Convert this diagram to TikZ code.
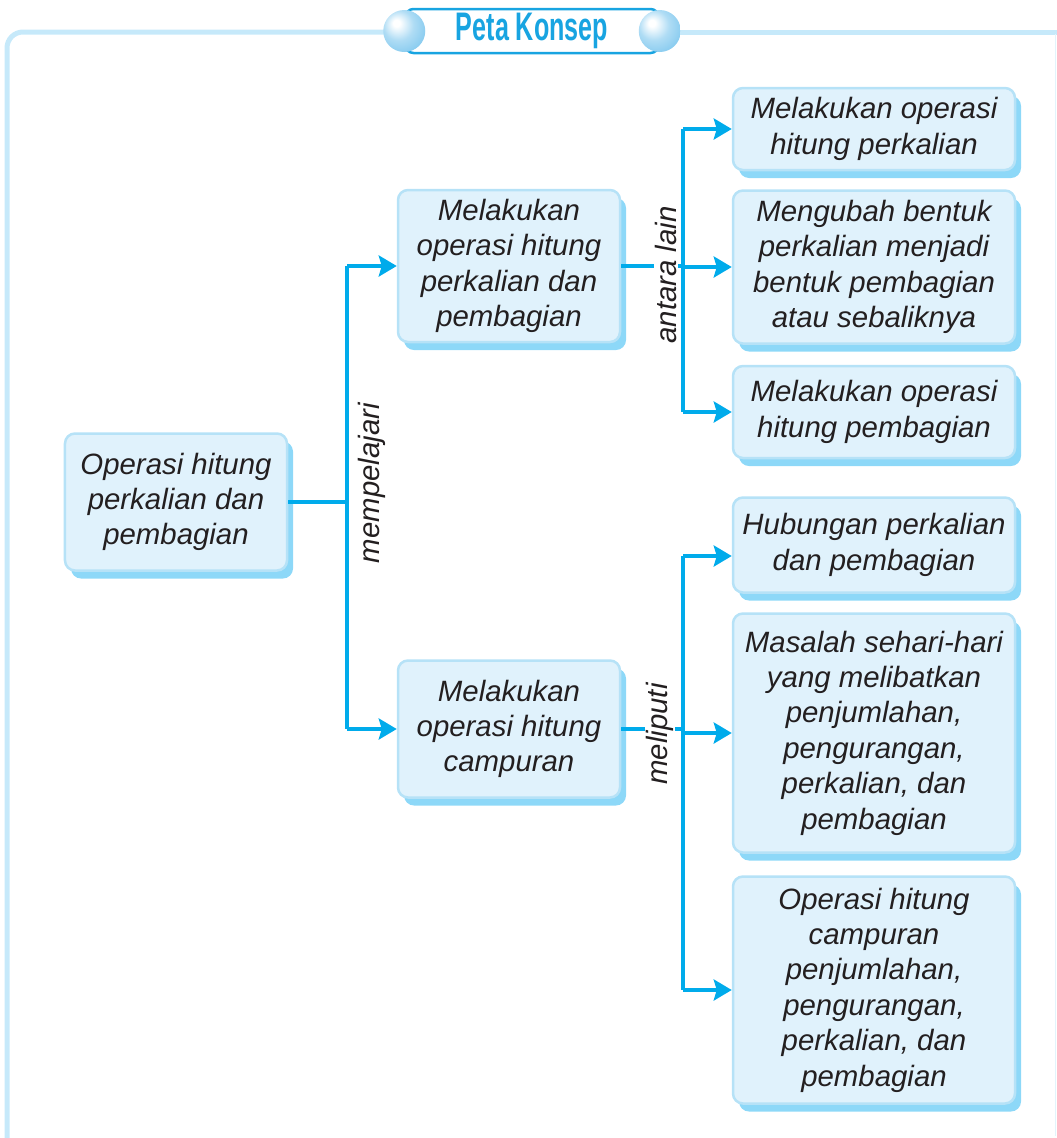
\documentclass[tikz,border=0pt]{standalone}
\usepackage{fontspec}
\setmainfont{Liberation Sans}
\newfontfamily\hdrfont[FakeStretch=0.63]{Liberation Sans}
\usepackage{xcolor}
\usepackage{tikz}
\usetikzlibrary{arrows.meta,shadows}

\definecolor{linkblue}{RGB}{0,171,235}
\definecolor{boxfill}{RGB}{224,242,252}
\definecolor{boxline}{RGB}{182,226,247}
\definecolor{boxshadow}{RGB}{141,216,248}
\definecolor{framebl}{RGB}{198,233,250}
\definecolor{hdrblue}{RGB}{24,164,225}
\definecolor{sphblue}{RGB}{110,192,236}
\definecolor{inkdark}{RGB}{35,31,32}

\pgfdeclareradialshading{pearl}{\pgfpoint{-10bp}{10bp}}{%
  color(0bp)=(white);color(4bp)=(white);color(18bp)=(sphblue!55);%
  color(36bp)=(sphblue!90);color(50bp)=(sphblue);color(60bp)=(sphblue)}

\tikzset{
  cbox/.style={draw=boxline, line width=2.5bp, fill=boxfill, rounded corners=10bp,
    align=center, text=inkdark, font=\fontsize{29.5}{35.5}\selectfont\itshape,
    drop shadow={shadow xshift=6bp, shadow yshift=-8bp, fill=boxshadow, opacity=1}},
  cline/.style={draw=linkblue, line width=3.5bp},
  carrow/.style={cline, -{Stealth[length=18bp,width=21bp,inset=3bp]}},
  clabel/.style={rotate=90, fill=white, inner sep=1bp, text=inkdark,
    font=\fontsize{29.5}{35.5}\selectfont\itshape},
  frame/.style={draw=framebl, line width=5bp, rounded corners=16bp}
}

\begin{document}
\begin{tikzpicture}[x=1bp,y=-1bp]
\useasboundingbox (0,0) rectangle (1057,1138);

\draw[frame] (400,32) -- (7,32) -- (7,1138);
\draw[frame] (650,32) -- (1057,32);
\draw[draw=framebl!50, line width=1bp] (1055,34) -- (1055,1136);

\node[draw=hdrblue, line width=2.5bp, fill=white, rounded corners=8bp,
  minimum width=253bp, minimum height=44bp, text=hdrblue,
  font=\hdrfont\bfseries\fontsize{40}{42}\selectfont] (hdr) at (532,31) {Peta Konsep};
\shade[shading=pearl] (hdr.west) circle (21);
\shade[shading=pearl] (hdr.east) circle (21);

\node[cbox, minimum width=222bp, minimum height=137bp] (root) at (176,502)
  {Operasi hitung\\perkalian dan\\pembagian};
\node[cbox, minimum width=222bp, minimum height=152bp] (mida) at (509,266)
  {Melakukan\\operasi hitung\\perkalian dan\\pembagian};
\node[cbox, minimum width=222bp, minimum height=137bp] (midb) at (509,729)
  {Melakukan\\operasi hitung\\campuran};

\node[cbox, minimum width=282bp, minimum height=82bp] (ra) at (874,129)
  {Melakukan operasi\\hitung perkalian};
\node[cbox, minimum width=282bp, minimum height=153bp] (rb) at (874,267)
  {Mengubah bentuk\\perkalian menjadi\\bentuk pembagian\\atau sebaliknya};
\node[cbox, minimum width=282bp, minimum height=92bp] (rc) at (874,412)
  {Melakukan operasi\\hitung pembagian};
\node[cbox, minimum width=282bp, minimum height=95bp] (rd) at (874,545)
  {Hubungan perkalian\\dan pembagian};
\node[cbox, minimum width=282bp, minimum height=239bp] (re) at (874,733)
  {Masalah sehari-hari\\yang melibatkan\\penjumlahan,\\pengurangan,\\perkalian, dan\\pembagian};
\node[cbox, minimum width=282bp, minimum height=227bp] (rf) at (874,990)
  {Operasi hitung\\campuran\\penjumlahan,\\pengurangan,\\perkalian, dan\\pembagian};

\coordinate (sa) at (347,502);
\coordinate (tb) at (683,266);

\draw[cline] (root) -- (root -| sa);
\draw[cline] (sa |- mida) -- (sa |- midb);
\draw[carrow] (sa |- mida) -- (mida);
\draw[carrow] (sa |- midb) -- (midb);

\draw[cline] (mida) -- (mida -| tb);
\draw[cline] (tb |- ra) -- (tb |- rc);
\draw[carrow] (tb |- ra) -- (ra);
\draw[carrow] (tb |- rb) -- (rb);
\draw[carrow] (tb |- rc) -- (rc);

\draw[cline] (midb) -- (midb -| tb);
\draw[cline] ([yshift=-11bp]tb |- rd.west) -- (tb |- rf);
\draw[carrow] ([yshift=-11bp]tb |- rd.west) -- ([yshift=-11bp]rd.west);
\draw[carrow] (tb |- re) -- (re);
\draw[carrow] (tb |- rf) -- (rf);

\node[clabel] (lmem) at (372,483) {mempelajari};
\node[clabel] (lant) at (666,275) {antara lain};
\node[clabel] (lmel) at (660,734) {meliputi};
\end{tikzpicture}
\end{document}
